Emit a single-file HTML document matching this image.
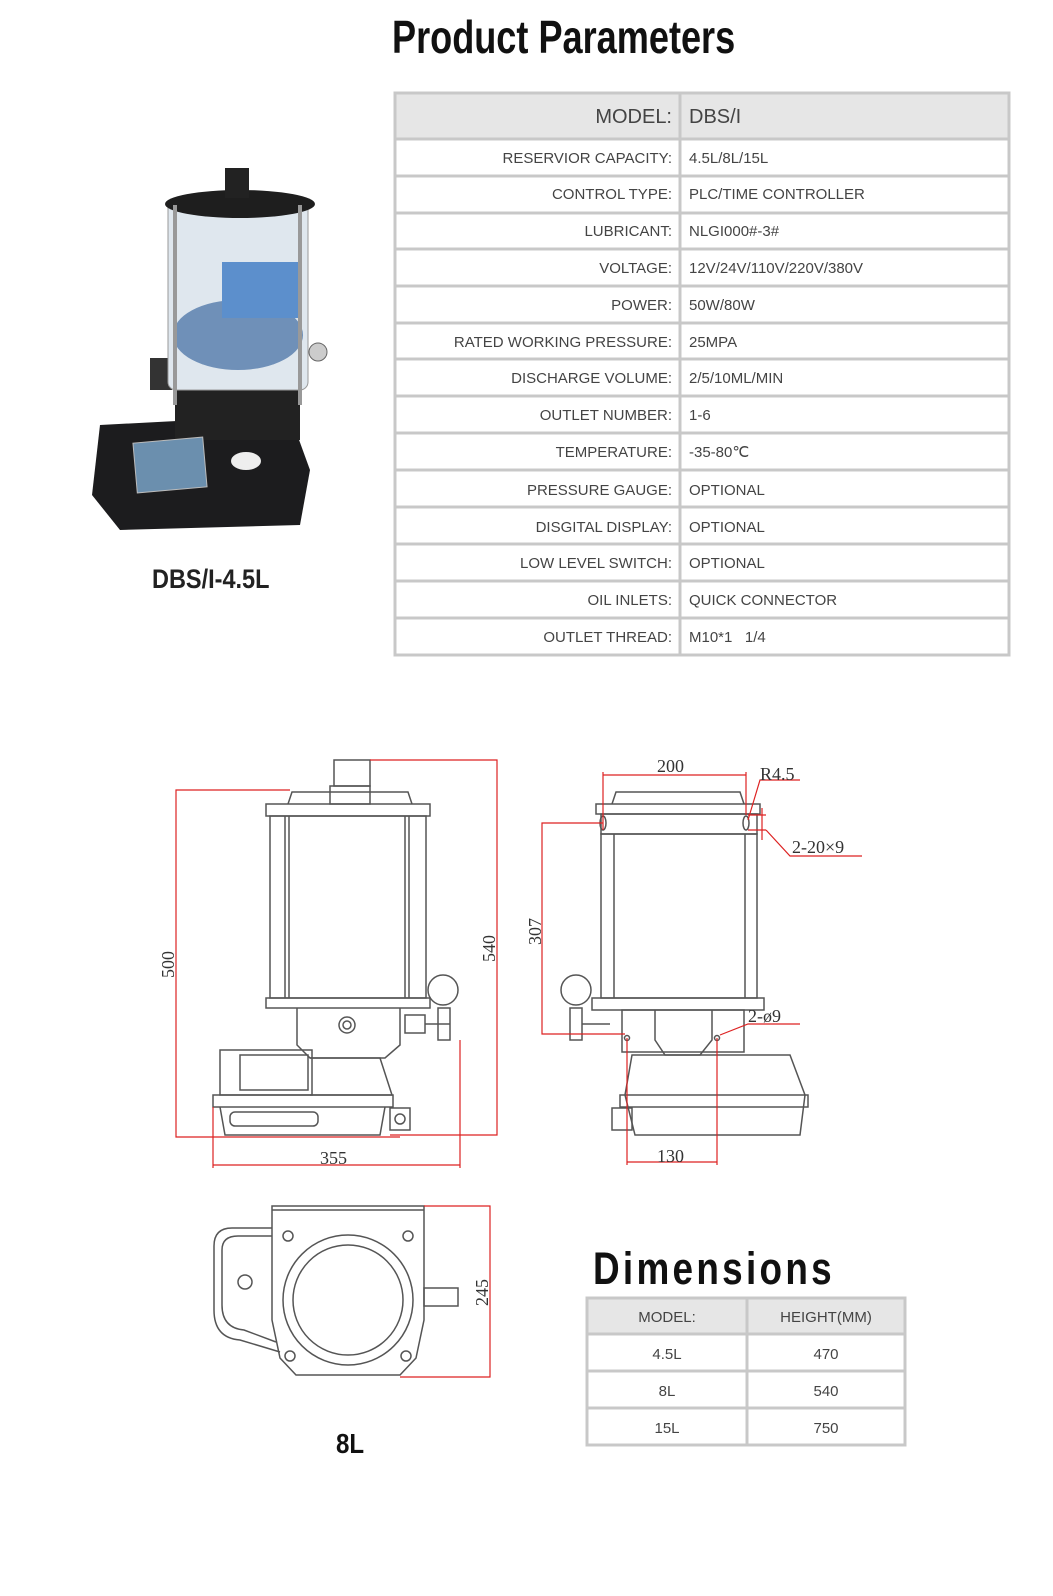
<!DOCTYPE html>
<html><head><meta charset="utf-8"><style>
body{margin:0;background:#fff;width:1053px;height:1596px;position:relative;overflow:hidden;font-family:"Liberation Sans",sans-serif}
.h{position:absolute;font-weight:bold;color:#111;transform-origin:left top;white-space:nowrap}
</style></head><body>
<div class="h" style="left:392px;top:10px;font-size:46px;transform:scaleX(0.785)">Product Parameters</div>
<div class="h" style="left:152px;top:564px;font-size:27px;transform:scaleX(0.87);color:#222">DBS/I-4.5L</div>
<div class="h" style="left:593px;top:1243px;font-size:45px;transform:scaleX(0.82);letter-spacing:4px">Dimensions</div>
<div class="h" style="left:336px;top:1428px;font-size:28px;transform:scaleX(0.86)">8L</div>

<svg width="1053" height="1596" style="position:absolute;left:0;top:0" xmlns="http://www.w3.org/2000/svg">
<rect x="395" y="93" width="614" height="45" fill="#e6e6e6"/>
<g stroke="#c8c8c8" stroke-width="3" fill="none">
<rect x="395" y="93" width="614" height="562"/>
<line x1="680" y1="93" x2="680" y2="655"/>
<line x1="395" y1="139" x2="1009" y2="139"/>
<line x1="395" y1="176" x2="1009" y2="176"/>
<line x1="395" y1="213" x2="1009" y2="213"/>
<line x1="395" y1="249" x2="1009" y2="249"/>
<line x1="395" y1="286" x2="1009" y2="286"/>
<line x1="395" y1="323" x2="1009" y2="323"/>
<line x1="395" y1="359" x2="1009" y2="359"/>
<line x1="395" y1="396" x2="1009" y2="396"/>
<line x1="395" y1="433" x2="1009" y2="433"/>
<line x1="395" y1="470" x2="1009" y2="470"/>
<line x1="395" y1="507" x2="1009" y2="507"/>
<line x1="395" y1="544" x2="1009" y2="544"/>
<line x1="395" y1="581" x2="1009" y2="581"/>
<line x1="395" y1="618" x2="1009" y2="618"/>
</g>
<g font-family="Liberation Sans, sans-serif" fill="#444" font-size="15">
<text x="672" y="123" text-anchor="end" font-size="20">MODEL:</text><text x="689" y="123" font-size="20">DBS/I</text>
<text x="672" y="163" text-anchor="end">RESERVIOR CAPACITY:</text><text x="689" y="163">4.5L/8L/15L</text>
<text x="672" y="199" text-anchor="end">CONTROL TYPE:</text><text x="689" y="199">PLC/TIME CONTROLLER</text>
<text x="672" y="236" text-anchor="end">LUBRICANT:</text><text x="689" y="236">NLGI000#-3#</text>
<text x="672" y="273" text-anchor="end">VOLTAGE:</text><text x="689" y="273">12V/24V/110V/220V/380V</text>
<text x="672" y="310" text-anchor="end">POWER:</text><text x="689" y="310">50W/80W</text>
<text x="672" y="347" text-anchor="end">RATED WORKING PRESSURE:</text><text x="689" y="347">25MPA</text>
<text x="672" y="383" text-anchor="end">DISCHARGE VOLUME:</text><text x="689" y="383">2/5/10ML/MIN</text>
<text x="672" y="420" text-anchor="end">OUTLET NUMBER:</text><text x="689" y="420">1-6</text>
<text x="672" y="457" text-anchor="end">TEMPERATURE:</text><text x="689" y="457">-35-80℃</text>
<text x="672" y="495" text-anchor="end">PRESSURE GAUGE:</text><text x="689" y="495">OPTIONAL</text>
<text x="672" y="532" text-anchor="end">DISGITAL DISPLAY:</text><text x="689" y="532">OPTIONAL</text>
<text x="672" y="568" text-anchor="end">LOW LEVEL SWITCH:</text><text x="689" y="568">OPTIONAL</text>
<text x="672" y="605" text-anchor="end">OIL INLETS:</text><text x="689" y="605">QUICK CONNECTOR</text>
<text x="672" y="642" text-anchor="end">OUTLET THREAD:</text><text x="689" y="642">M10*1&#160;&#160;&#160;1/4</text>
</g>

<path d="M100 425 L290 415 L310 470 L300 525 L120 530 L92 495 Z" fill="#1c1c1e"/>
<path d="M175 380 L300 380 L300 440 L175 440 Z" fill="#222"/>
<rect x="150" y="358" width="22" height="32" fill="#333"/>
<rect x="168" y="200" width="140" height="190" rx="8" fill="#dfe7ee" stroke="#999"/>
<ellipse cx="238" cy="335" rx="65" ry="35" fill="#6f90b8"/>
<rect x="222" y="262" width="76" height="56" fill="#5c8fcc"/>
<ellipse cx="240" cy="204" rx="75" ry="14" fill="#1e1e1e"/>
<rect x="225" y="168" width="24" height="30" fill="#222"/>
<rect x="173" y="205" width="4" height="200" fill="#999"/><rect x="298" y="205" width="4" height="200" fill="#999"/>
<rect x="135" y="440" width="70" height="50" fill="#6b8fae" stroke="#bbb" transform="rotate(-5 170 465)"/>
<ellipse cx="246" cy="461" rx="15" ry="9" fill="#eee"/>
<circle cx="318" cy="352" r="9" fill="#ccc" stroke="#666"/>

<g stroke="#555" stroke-width="1.5" fill="none">
<rect x="334" y="760" width="36" height="26"/><rect x="330" y="786" width="40" height="18"/>
<path d="M288 804 L292 792 L408 792 L412 804"/>
<rect x="266" y="804" width="164" height="12"/>
<rect x="270" y="816" width="156" height="182"/>
<line x1="285" y1="816" x2="285" y2="998"/><line x1="289" y1="816" x2="289" y2="998"/>
<line x1="405" y1="816" x2="405" y2="998"/><line x1="409" y1="816" x2="409" y2="998"/>
<rect x="266" y="998" width="164" height="10"/>
<path d="M297 1008 L297 1045 L310 1058 L385 1058 L400 1045 L400 1008"/>
<circle cx="347" cy="1025" r="8"/><circle cx="347" cy="1025" r="4"/>
<rect x="405" y="1015" width="20" height="18"/><line x1="425" y1="1024" x2="450" y2="1024"/>
<circle cx="443" cy="990" r="15"/><rect x="438" y="1008" width="12" height="32"/>
<rect x="220" y="1050" width="92" height="45"/><rect x="240" y="1055" width="68" height="35"/>
<path d="M310 1058 L380 1058 L392 1095 L310 1095"/>
<rect x="213" y="1095" width="180" height="12"/>
<path d="M220 1107 L225 1135 L380 1135 L385 1107"/>
<rect x="230" y="1112" width="88" height="14" rx="5"/>
<rect x="390" y="1108" width="20" height="22"/><circle cx="400" cy="1119" r="5"/>
<path d="M612 804 L616 792 L740 792 L744 804"/>
<rect x="596" y="804" width="164" height="10"/>
<rect x="601" y="814" width="156" height="20"/>
<rect x="601" y="834" width="156" height="164"/>
<line x1="614" y1="834" x2="614" y2="998"/><line x1="745" y1="834" x2="745" y2="998"/>
<ellipse cx="603" cy="823" rx="3" ry="7"/><ellipse cx="746" cy="823" rx="3" ry="7"/>
<rect x="592" y="998" width="172" height="12"/>
<rect x="622" y="1010" width="122" height="42"/>
<path d="M655 1010 L655 1040 L665 1055 L700 1055 L712 1040 L712 1010"/>
<circle cx="576" cy="990" r="15"/><rect x="570" y="1008" width="12" height="32"/><line x1="582" y1="1024" x2="610" y2="1024"/>
<path d="M632 1055 L790 1055 L805 1095 L800 1135 L635 1135 L625 1095 Z"/>
<rect x="620" y="1095" width="188" height="12"/>
<rect x="612" y="1108" width="20" height="22"/>
<circle cx="627" cy="1038" r="2.5"/><circle cx="717" cy="1038" r="2.5"/>
<path d="M272 1206 L424 1206 L424 1320 L416 1358 L400 1375 L296 1375 L280 1358 L272 1320 Z"/>
<line x1="272" y1="1210" x2="424" y2="1210"/>
<circle cx="348" cy="1300" r="65"/><circle cx="348" cy="1300" r="55"/>
<path d="M272 1228 L232 1228 Q214 1228 214 1246 L214 1310 Q214 1338 240 1340 L280 1352"/>
<path d="M272 1236 L238 1236 Q222 1236 222 1250 L222 1305 Q222 1328 244 1330 L276 1342"/>
<rect x="424" y="1288" width="34" height="18"/>
<circle cx="288" cy="1236" r="5"/><circle cx="408" cy="1236" r="5"/><circle cx="290" cy="1356" r="5"/><circle cx="406" cy="1356" r="5"/>
<circle cx="245" cy="1282" r="7"/>
</g>
<g stroke="#d22" stroke-width="1.2" fill="none">
<path d="M370 760 L497 760 L497 1135 L390 1135"/>
<path d="M290 790 L176 790 L176 1137 L400 1137"/>
<line x1="213" y1="1107" x2="213" y2="1168"/><line x1="460" y1="1040" x2="460" y2="1168"/><line x1="213" y1="1165" x2="460" y2="1165"/>
<line x1="603" y1="772" x2="603" y2="830"/><line x1="746" y1="772" x2="746" y2="815"/><line x1="603" y1="775" x2="746" y2="775"/>
<path d="M603 823 L542 823 L542 1034 L625 1034"/>
<line x1="627" y1="1038" x2="627" y2="1165"/><line x1="717" y1="1038" x2="717" y2="1165"/><line x1="627" y1="1162" x2="717" y2="1162"/>
<path d="M748 820 L760 780 L800 780"/>
<line x1="762" y1="808" x2="762" y2="840"/><line x1="748" y1="815" x2="766" y2="815"/><line x1="748" y1="830" x2="766" y2="830"/>
<path d="M766 830 L790 856 L862 856"/>
<path d="M720 1035 L748 1024 L800 1024"/>
<path d="M424 1206 L490 1206 L490 1377 L400 1377"/>
</g>
<g font-family="Liberation Serif, serif" font-size="18" fill="#333">
<text x="320" y="1164">355</text><text x="657" y="1162">130</text><text x="657" y="772">200</text>
<text x="760" y="780">R4.5</text><text x="792" y="853">2-20×9</text><text x="748" y="1022">2-ø9</text>
<text transform="translate(174 978) rotate(-90)">500</text>
<text transform="translate(495 962) rotate(-90)">540</text>
<text transform="translate(541 945) rotate(-90)">307</text>
<text transform="translate(488 1306) rotate(-90)">245</text>
</g>

<rect x="587" y="1298" width="318" height="36" fill="#e6e6e6"/>
<g stroke="#c8c8c8" stroke-width="3" fill="none">
<rect x="587" y="1298" width="318" height="147"/>
<line x1="747" y1="1298" x2="747" y2="1445"/>
<line x1="587" y1="1334" x2="905" y2="1334"/><line x1="587" y1="1371" x2="905" y2="1371"/><line x1="587" y1="1408" x2="905" y2="1408"/>
</g>
<g font-family="Liberation Sans, sans-serif" font-size="15" fill="#444" text-anchor="middle">
<text x="667" y="1322">MODEL:</text><text x="826" y="1322">HEIGHT(MM)</text>
<text x="667" y="1359">4.5L</text><text x="826" y="1359">470</text>
<text x="667" y="1396">8L</text><text x="826" y="1396">540</text>
<text x="667" y="1433">15L</text><text x="826" y="1433">750</text>
</g>
</svg>
</body></html>
